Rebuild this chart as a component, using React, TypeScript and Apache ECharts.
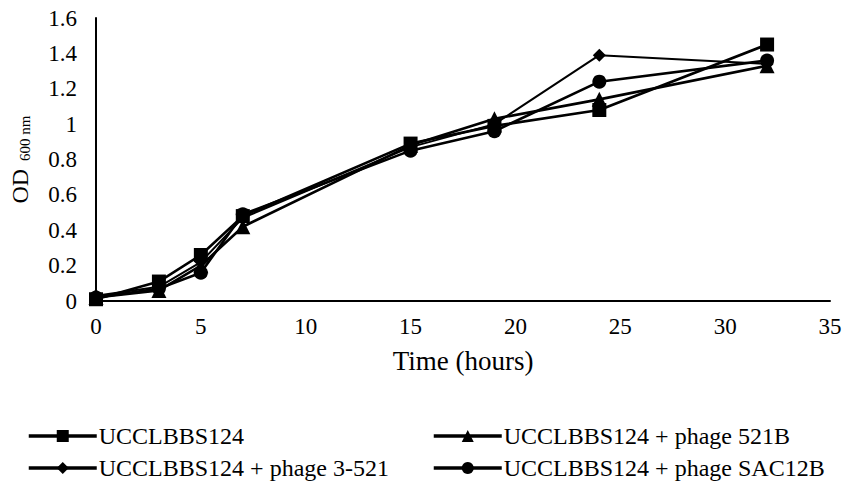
import React, { useEffect, useRef } from "react";
import * as echarts from "echarts";

const times = [0, 3, 5, 7, 15, 19, 24, 32];
const seriesNames = [
  "UCCLBBS124",
  "UCCLBBS124 + phage 521B",
  "UCCLBBS124 + phage 3-521",
  "UCCLBBS124 + phage SAC12B",
];
const control = [0.01, 0.11, 0.26, 0.48, 0.89, 0.99, 1.08, 1.45];
const phage521B = [0.02, 0.06, 0.2, 0.42, 0.88, 1.03, 1.14, 1.33];
const phage3521 = [0.03, 0.08, 0.22, 0.47, 0.87, 1.0, 1.39, 1.34];
const phageSAC12B = [0.02, 0.07, 0.16, 0.49, 0.85, 0.96, 1.24, 1.36];
const xTicks = { min: 0, max: 35, interval: 5 };
const yTicks = { min: 0, max: 1.6, interval: 0.2 };

const FONT = "'Liberation Serif', 'Times New Roman', serif";

export default function App() {
  const ref = useRef<HTMLDivElement>(null);
  useEffect(() => {
    if (!ref.current) return;
    const chart = echarts.init(ref.current, undefined, { renderer: "svg" });
    const values = [control, phage521B, phage3521, phageSAC12B];
    const symbols = ["rect", "triangle", "diamond", "circle"];
    const sizes = [14, 15, 13, 14];
    const series = values.map((vals, i) => ({
      name: seriesNames[i],
      type: "line",
      data: times.map((t, j) => [t, vals[j]]),
      symbol: symbols[i],
      symbolSize: sizes[i],
      showSymbol: true,
      lineStyle: { color: "#000", width: i === 2 ? 2 : 2.6 },
      itemStyle: { color: "#000" },
      z: 2 + i,
    }));
    const legendPos = [
      { left: 27, top: 424 },
      { left: 432, top: 424 },
      { left: 27, top: 456 },
      { left: 432, top: 456 },
    ];
    chart.setOption({
      animation: false,
      backgroundColor: "#fff",
      grid: { left: 95, right: 18, top: 18, bottom: 195 },
      legend: seriesNames.map((n, i) => ({
        data: [n],
        ...legendPos[i],
        padding: 0,
        itemGap: 0,
        itemWidth: 68,
        itemHeight: 15,
        lineStyle: { width: 3.5, color: "#000" },
        textStyle: { fontFamily: FONT, fontSize: 24, color: "#000", padding: [0, 0, 0, -3] },
      })),
      xAxis: {
        type: "value",
        ...xTicks,
        name: "Time (hours)",
        nameLocation: "middle",
        nameGap: 46,
        nameTextStyle: { fontFamily: FONT, fontSize: 27, color: "#000" },
        axisLine: { show: true, lineStyle: { color: "#000", width: 2 } },
        axisTick: { show: false },
        splitLine: { show: false },
        axisLabel: { fontFamily: FONT, fontSize: 23, color: "#000", margin: 14 },
      },
      yAxis: {
        type: "value",
        ...yTicks,
        name: "{od|OD}{sub|600 nm}",
        nameLocation: "middle",
        nameGap: 64,
        nameTextStyle: {
          fontFamily: FONT,
          color: "#000",
          rich: {
            od: { fontFamily: FONT, fontSize: 24, color: "#000", verticalAlign: "bottom", lineHeight: 30 },
            sub: {
              fontFamily: FONT,
              fontSize: 15,
              color: "#000",
              verticalAlign: "bottom",
              lineHeight: 16,
              padding: [0, 0, 0, 8],
            },
          },
        },
        axisLine: { show: true, lineStyle: { color: "#000", width: 2 } },
        axisTick: { show: false },
        splitLine: { show: false },
        axisLabel: { fontFamily: FONT, fontSize: 23, color: "#000", margin: 19 },
      },
      series,
    });
    return () => chart.dispose();
  }, []);
  return (
    <div
      ref={ref}
      style={{ position: "fixed", left: 0, top: 0, width: 848, height: 496, background: "#fff" }}
    />
  );
}
